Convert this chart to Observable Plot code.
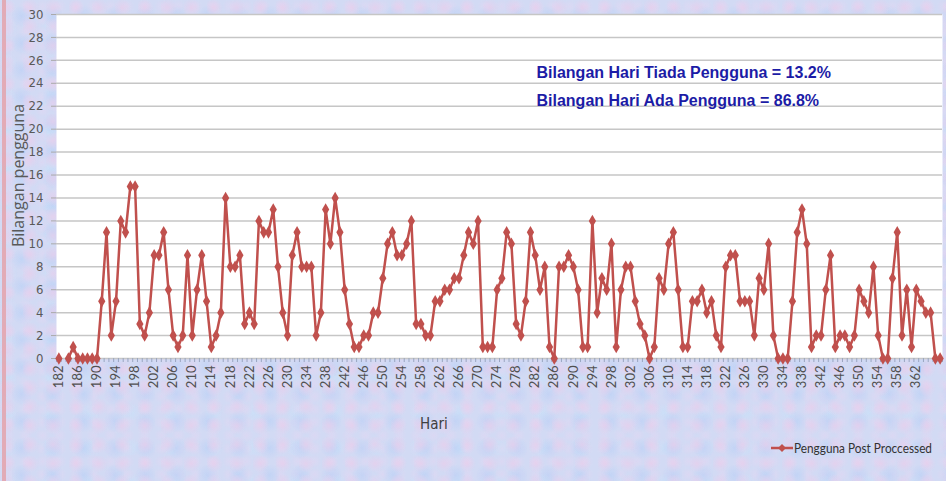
<!DOCTYPE html>
<html>
<head>
<meta charset="utf-8">
<script src="https://cdn.jsdelivr.net/npm/d3@7"></script>
<script src="https://cdn.jsdelivr.net/npm/@observablehq/plot@0.6"></script>
<style>
  html, body { margin: 0; padding: 0; }
  #wrap {
    position: relative; width: 946px; height: 481px; overflow: hidden;
    background-color: #d2daf4;
    background-image:
      radial-gradient(circle at 30% 40%, rgba(238,204,234,0.6) 0, rgba(238,204,234,0) 9px),
      radial-gradient(circle at 70% 60%, rgba(184,208,246,0.6) 0, rgba(184,208,246,0) 11px),
      radial-gradient(circle at 50% 50%, rgba(228,214,242,0.5) 0, rgba(228,214,242,0) 7px),
      radial-gradient(circle at 20% 80%, rgba(198,226,250,0.55) 0, rgba(198,226,250,0) 10px);
    background-size: 23px 19px, 31px 27px, 17px 13px, 41px 35px;
  }
  #strip { position: absolute; left: 2px; top: 0; width: 4px; height: 481px; background: #e3a0a8; opacity: 0.8; }
  #plot { position: absolute; left: 0; top: 0; }
  #hari { position: absolute; left: 420px; top: 415px; font: 15px "Liberation Sans Narrow", "DejaVu Sans Condensed", Lato, sans-serif; color: #404040; white-space: nowrap; }
  #legend { position: absolute; left: 768px; top: 438px; }
</style>
</head>
<body>
<div id="wrap">
  <div id="strip"></div>
  <div id="plot"></div>
  <div id="hari">Hari</div>
  <svg id="legend" width="174" height="22"><line x1="3" y1="10" x2="25" y2="10" stroke="#c0504d" stroke-width="2.5"/><path d="M14,6 L18,10 L14,14 L10,10 Z" fill="#c0504d"/><text id="legendText" x="26" y="15" textLength="138" lengthAdjust="spacingAndGlyphs" font-family="Lato, sans-serif" font-size="12.5" fill="#333"></text></svg>
</div>
<script>
// Day-of-year categories start at 182; value for day 183 is missing (gap in the line)
const firstDay = 182;
const users = [
  0, null, 0, 1, 0, 0, 0, 0, 0, 5,      // 182-191
  11, 2, 5, 12, 11, 15, 15, 3, 2, 4,    // 192-201
  9, 9, 11, 6, 2, 1, 2, 9, 2, 6,        // 202-211
  9, 5, 1, 2, 4, 14, 8, 8, 9, 3,        // 212-221
  4, 3, 12, 11, 11, 13, 8, 4, 2, 9,     // 222-231
  11, 8, 8, 8, 2, 4, 13, 10, 14, 11,    // 232-241
  6, 3, 1, 1, 2, 2, 4, 4, 7, 10,        // 242-251
  11, 9, 9, 10, 12, 3, 3, 2, 2, 5,      // 252-261
  5, 6, 6, 7, 7, 9, 11, 10, 12, 1,      // 262-271
  1, 1, 6, 7, 11, 10, 3, 2, 5, 11,      // 272-281
  9, 6, 8, 1, 0, 8, 8, 9, 8, 6,         // 282-291
  1, 1, 12, 4, 7, 6, 10, 1, 6, 8,       // 292-301
  8, 5, 3, 2, 0, 1, 7, 6, 10, 11,       // 302-311
  6, 1, 1, 5, 5, 6, 4, 5, 2, 1,         // 312-321
  8, 9, 9, 5, 5, 5, 2, 7, 6, 10,        // 322-331
  2, 0, 0, 0, 5, 11, 13, 10, 1, 2,      // 332-341
  2, 6, 9, 1, 2, 2, 1, 2, 6, 5,         // 342-351
  4, 8, 2, 0, 0, 7, 11, 2, 6, 1,        // 352-361
  6, 5, 4, 4, 0, 0                      // 362-367
];
const xTickLabels = [182,186,190,194,198,202,206,210,214,218,222,226,230,234,238,242,246,250,254,258,262,266,270,274,278,282,286,290,294,298,302,306,310,314,318,322,326,330,334,338,342,346,350,354,358,362];
const yTickLabels = [0,2,4,6,8,10,12,14,16,18,20,22,24,26,28,30];
const seriesName = "Pengguna Post Proccessed";
const yTitle = "Bilangan pengguna";
const notes = ["Bilangan Hari Tiada Pengguna = 13.2%", "Bilangan Hari Ada Pengguna = 86.8%"];

document.getElementById("legendText").textContent = seriesName;

const data = users.map((u, i) => ({day: firstDay + i, users: u}));
const lastDay = firstDay + users.length - 1;
const boundaries = d3.range(firstDay - 0.5, lastDay + 1, 1);

const red = "#c0504d";
const narrow = '"Liberation Sans Narrow", "DejaVu Sans Condensed", Lato, sans-serif';
const bold = '"Liberation Sans", Arial, sans-serif';

const chart = Plot.plot({
  width: 946, height: 481,
  marginLeft: 56, marginRight: 4, marginTop: 14, marginBottom: 123,
  style: {background: "transparent", overflow: "visible"},
  x: {domain: [firstDay - 0.5, lastDay + 0.5], axis: null},
  y: {domain: [0, 30], axis: null},
  marks: [
    Plot.frame({fill: "white", stroke: null}),
    Plot.gridY(yTickLabels, {stroke: "#c6c6c6", strokeOpacity: 1, strokeWidth: 1.5}),
    Plot.axisY({ticks: yTickLabels, tickSize: 5, tickPadding: 8, label: null, color: "#595959", fontSize: 13, fontFamily: narrow, stroke: "#aaa"}),
    Plot.axisX({ticks: boundaries, tickSize: 4, tickFormat: () => "", label: null, stroke: "#9aa6c0"}),
    Plot.axisX({ticks: xTickLabels, tickSize: 0, tickPadding: 7, tickRotate: -90, label: null, color: "#505050", fontSize: 13, fontFamily: "Lato, sans-serif"}),
    Plot.line(data, {x: "day", y: "users", stroke: red, strokeWidth: 2.5}),
    Plot.dot(data.filter(d => d.users != null), {x: "day", y: "users", symbol: "diamond", r: 3.8, fill: red, stroke: null}),
    Plot.text([notes[0]], {frameAnchor: "top-left", dx: 480, dy: 58, textAnchor: "start", lineAnchor: "middle", fill: "#1c1ca6", fontSize: 16, fontWeight: "bold", fontFamily: bold}),
    Plot.text([notes[1]], {frameAnchor: "top-left", dx: 480, dy: 86, textAnchor: "start", lineAnchor: "middle", fill: "#1c1ca6", fontSize: 16, fontWeight: "bold", fontFamily: bold}),
    Plot.text([yTitle], {frameAnchor: "left", dx: -38, dy: -11, rotate: -90, textAnchor: "middle", fill: "#595959", fontSize: 16, fontFamily: '"Open Sans", sans-serif'})
  ]
});
document.getElementById("plot").appendChild(chart);
</script>
</body>
</html>
